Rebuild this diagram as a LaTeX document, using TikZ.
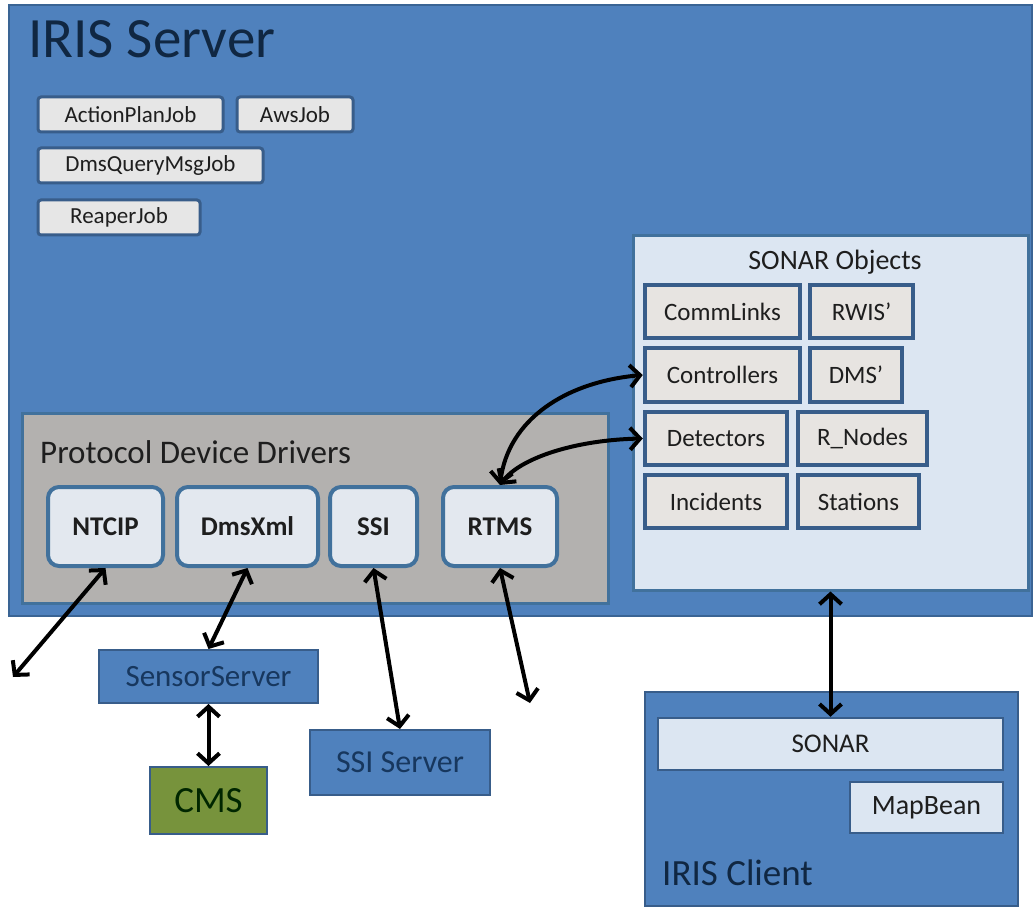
\documentclass[tikz,border=0pt]{standalone}
\usepackage{fontspec}
\setmainfont{Carlito}
\usetikzlibrary{arrows.meta}
\definecolor{srvblue}{HTML}{4F81BD}
\definecolor{srvedge}{HTML}{3A6494}
\definecolor{darkedge}{HTML}{385D8A}
\definecolor{jobfill}{HTML}{E6E6E6}
\definecolor{itemfill}{HTML}{E7E4E1}
\definecolor{lightblue}{HTML}{DCE6F2}
\definecolor{pddgray}{HTML}{B3B1AF}
\definecolor{drvfill}{HTML}{E3E8EF}
\definecolor{drvedge}{HTML}{41719C}
\definecolor{cmsgreen}{HTML}{77933C}
\definecolor{navytext}{HTML}{17375E}
\definecolor{txt}{HTML}{1E1E1E}
\newcommand{\fs}[1]{\fontsize{#1}{#1}\selectfont}
\tikzset{
  bluebox/.style={draw=srvedge, fill=srvblue, line width=2pt, inner sep=0pt},
  jobbox/.style={draw=darkedge, fill=jobfill, line width=3pt, rounded corners=3pt, inner sep=0pt, text=txt, font=\fs{23}},
  itembox/.style={draw=darkedge, fill=itemfill, line width=4.5pt, inner sep=0pt, text=txt, font=\fs{25}},
  lightbox/.style={draw=darkedge, fill=lightblue, line width=2.5pt, inner sep=0pt, text=txt},
  drvbox/.style={draw=drvedge, fill=drvfill, line width=4pt, rounded corners=11pt, inner sep=0pt, text=txt, font=\bfseries\fs{27}},
  extbox/.style={draw=darkedge, fill=srvblue, line width=2pt, inner sep=0pt, text=navytext, font=\fs{31}},
  link/.style={line width=4pt, black, {Straight Barb[length=10pt,width=22pt,line width=4pt]}-{Straight Barb[length=10pt,width=22pt,line width=4pt]}}
}
\begin{document}
\begin{tikzpicture}[x=1pt,y=-1pt]
\useasboundingbox (0,0) rectangle (1034,909);
\fill[white] (0,0) rectangle (1034,909);
% IRIS Server
\node[bluebox, minimum width=1023pt, minimum height=611pt] (iris) at (520.5,310.5) {};
\node[anchor=base west, inner sep=0pt, text=navytext!70!black, font=\fs{57}] (iristitle) at (28,58) {IRIS Server};
% jobs
\node[jobbox, minimum width=185pt, minimum height=35pt] (apj) at (130.5,114.5) {ActionPlanJob};
\node[jobbox, minimum width=116pt, minimum height=35pt] (aws) at (295,114.5) {AwsJob};
\node[jobbox, minimum width=225pt, minimum height=35pt] (dqm) at (150.5,165.5) {DmsQueryMsgJob};
\node[jobbox, minimum width=162pt, minimum height=35pt] (reaper) at (119,217.5) {ReaperJob};
% SONAR Objects
\node[lightbox, draw=drvedge, line width=3pt, minimum width=395pt, minimum height=354pt] (sonarobj) at (830.5,413) {};
\node[anchor=base, inner sep=0pt, text=txt, font=\fs{28}] (sonartitle) at (835,270) {SONAR Objects};
\node[itembox, minimum width=155pt, minimum height=53pt] (comm) at (722.5,311.5) {CommLinks};
\node[itembox, minimum width=103pt, minimum height=53pt] (rwis) at (861.5,311.5) {RWIS’};
\node[itembox, minimum width=155pt, minimum height=54pt] (ctrl) at (722.5,375) {Controllers};
\node[itembox, minimum width=92pt, minimum height=54pt] (dms) at (856,375) {DMS’};
\node[itembox, minimum width=142pt, minimum height=53pt] (det) at (716,438.5) {Detectors};
\node[itembox, minimum width=129pt, minimum height=53pt] (rnodes) at (862.5,438.5) {R\_Nodes};
\node[itembox, minimum width=142pt, minimum height=53pt] (inc) at (716,501.5) {Incidents};
\node[itembox, minimum width=121pt, minimum height=53pt] (stations) at (858.5,501.5) {Stations};
% Protocol Device Drivers
\node[draw=drvedge, fill=pddgray, line width=3pt, inner sep=0pt, minimum width=586pt, minimum height=190pt] (pdd) at (315,508) {};
\node[anchor=base west, inner sep=0pt, text=txt, font=\fs{33}] (pddtitle) at (40,463) {Protocol Device Drivers};
\node[drvbox, minimum width=115pt, minimum height=79pt] (ntcip) at (105.5,526.5) {NTCIP};
\node[drvbox, minimum width=141pt, minimum height=79pt] (dmsxml) at (247.5,526.5) {DmsXml};
\node[drvbox, minimum width=87pt, minimum height=79pt] (ssi) at (373.5,526.5) {SSI};
\node[drvbox, minimum width=114pt, minimum height=79pt] (rtms) at (500,526.5) {RTMS};
% external
\node[extbox, minimum width=219pt, minimum height=53pt] (sensor) at (208.5,676.5) {SensorServer};
\node[extbox, fill=cmsgreen, text=black!85!green, font=\fs{37}, minimum width=117pt, minimum height=67pt] (cms) at (208.5,800.5) {CMS};
\node[extbox, font=\fs{32}, minimum width=180pt, minimum height=65pt] (ssiserver) at (400,762.5) {SSI Server};
% IRIS Client
\node[bluebox, draw=darkedge, minimum width=373pt, minimum height=214pt] (client) at (831.5,799) {};
\node[lightbox, font=\fs{27}, minimum width=345pt, minimum height=52pt] (sonar) at (830.5,744) {SONAR};
\node[lightbox, font=\fs{28}, minimum width=153pt, minimum height=51pt] (mapbean) at (926.5,807.5) {MapBean};
\node[anchor=base west, inner sep=0pt, text=navytext!70!black, font=\fs{37}] (clienttitle) at (662,885) {IRIS Client};
% free ends
\coordinate (ntcipend) at (13,677);
\coordinate (rtmsend) at (530,703);
% connectors
\draw[link] (ntcip.south) -- (ntcipend);
\draw[link] (dmsxml.south) -- (sensor.north);
\draw[link] (ssi.south) -- (ssiserver.north);
\draw[link] (rtms.south) -- (rtmsend);
\draw[link] (sensor.south) -- (cms.north);
\draw[link] (sonarobj.south) -- (sonar.north);
\draw[link] (rtms.north) .. controls (508,420) and (565,382) .. (ctrl.west);
\draw[link] (rtms.north) .. controls (520,458) and (575,440) .. (det.west);
\end{tikzpicture}
\end{document}
